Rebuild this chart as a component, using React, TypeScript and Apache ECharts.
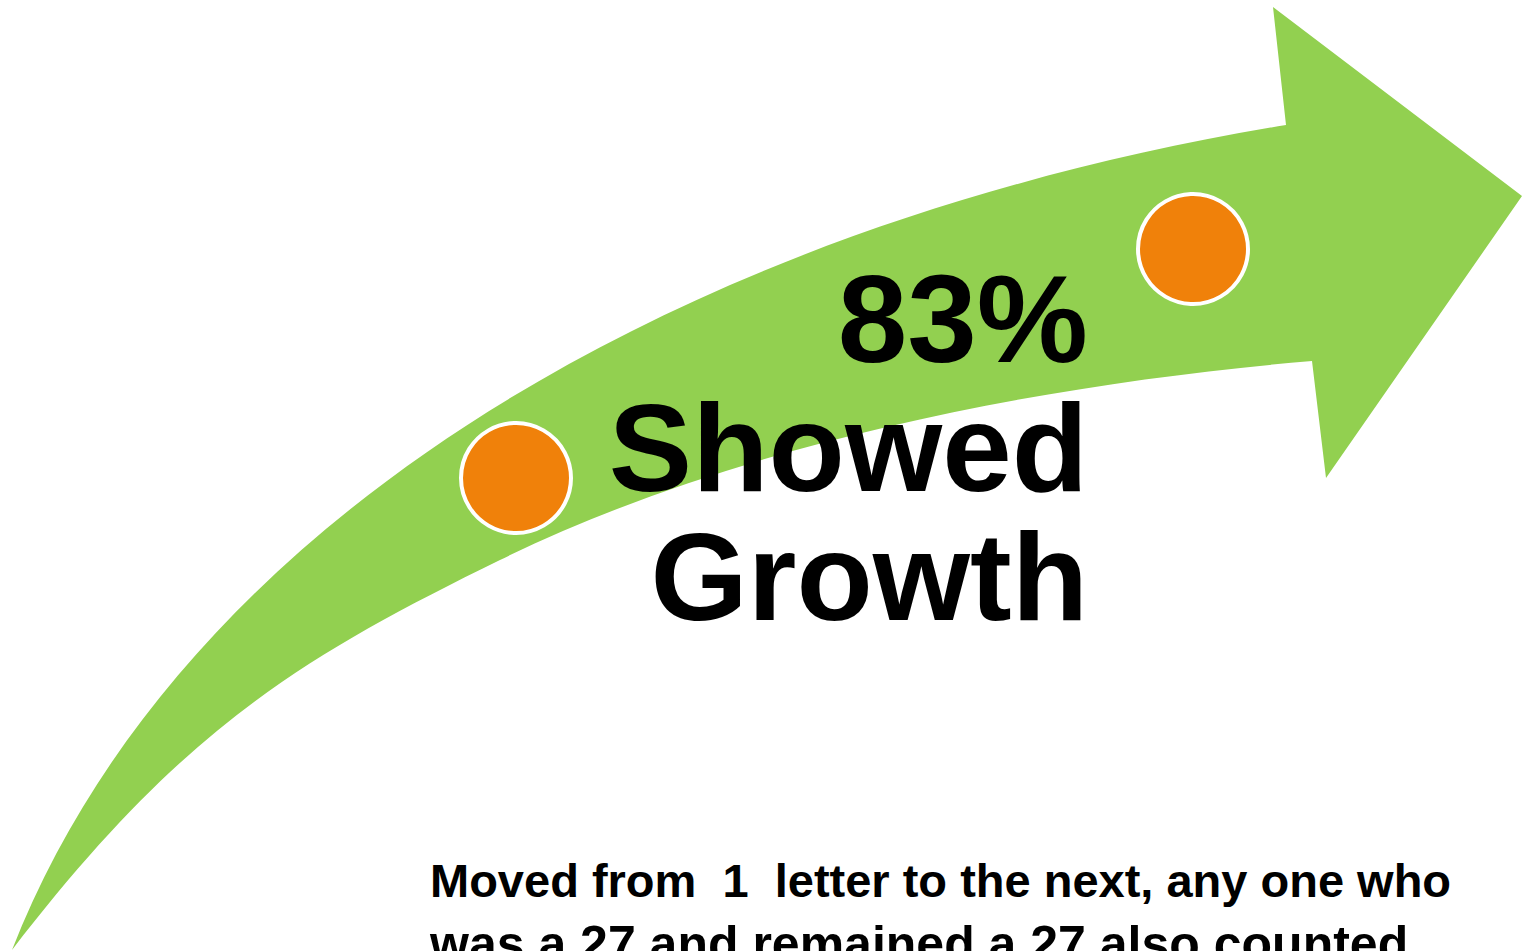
import React, { useEffect, useRef } from "react";
import * as echarts from "echarts";

// ---- content ----
const growthPercent = [83];
const headlineWords = ["Showed", "Growth"];
const noteLines = [
  "Moved from  1  letter to the next, any one who",
  "was a 27 and remained a 27 also counted",
];

// ---- colours ----
const GREEN = "#92D050";
const ORANGE = "#F0810A";

// ---- arrow geometry (pixels): cubic bezier segments ----
const TAIL = [12, 950];
const TOP_CURVE = [[180, 520], [680, 225], [1286, 125]];
const HEAD = [[1273, 7], [1522, 196], [1326, 478], [1312, 361]];
const BOTTOM_CURVE_1 = [[1042, 384], [740, 442.4], [500, 560]];
const BOTTOM_CURVE_2 = [[300, 658], [182, 729], [12, 950]];

function cubic(seg: number[][]): string {
  return `C ${seg[0][0]} ${seg[0][1]} ${seg[1][0]} ${seg[1][1]} ${seg[2][0]} ${seg[2][1]} `;
}

function arrowPath(): string {
  let d = `M ${TAIL[0]} ${TAIL[1]} `;
  d += cubic(TOP_CURVE);
  for (const p of HEAD) d += `L ${p[0]} ${p[1]} `;
  d += cubic(BOTTOM_CURVE_1);
  d += cubic(BOTTOM_CURVE_2);
  d += "Z";
  return d;
}

let registered = false;
function ensureShape() {
  if (registered) return;
  echarts.graphic.registerShape("growthArrow", echarts.graphic.extendPath(arrowPath(), {}) as any);
  registered = true;
}

function textEl(text: string, x: number, y: number, size: number, align: string) {
  return {
    type: "text",
    x,
    y,
    style: {
      text,
      fill: "#000000",
      font: `bold ${size}px "Liberation Sans", Arial, sans-serif`,
      textAlign: align,
      textVerticalAlign: "middle",
      align,
      verticalAlign: "middle",
    },
  };
}

export default function App() {
  const ref = useRef<HTMLDivElement>(null);

  useEffect(() => {
    if (!ref.current) return;
    ensureShape();
    const chart = echarts.init(ref.current, undefined, { renderer: "svg" });
    const big = 125;
    const small = 47;
    const small2 = 50;
    const midShift = 0.3465;
    chart.setOption({
      animation: false,
      backgroundColor: "#ffffff",
      graphic: [
        { type: "growthArrow", x: 0, y: 0, style: { fill: GREEN } },
        { type: "circle", shape: { cx: 516, cy: 478, r: 55 }, style: { fill: ORANGE, stroke: "#ffffff", lineWidth: 4 } },
        { type: "circle", shape: { cx: 1193, cy: 249, r: 55 }, style: { fill: ORANGE, stroke: "#ffffff", lineWidth: 4 } },
        textEl(`${growthPercent[0]}%`, 1088, 362 - big * midShift, big, "right"),
        textEl(headlineWords[0], 1088, 491 - big * midShift, big, "right"),
        textEl(headlineWords[1], 1088, 620 - big * midShift, big, "right"),
        textEl(noteLines[0], 430, 897 - small * midShift, small, "left"),
        textEl(noteLines[1], 430, 961 - small2 * midShift, small2, "left"),
      ],
    });
    return () => chart.dispose();
  }, []);

  return (
    <div
      ref={ref}
      style={{ position: "fixed", left: 0, top: 0, width: 1522, height: 951, background: "#fff" }}
    />
  );
}
